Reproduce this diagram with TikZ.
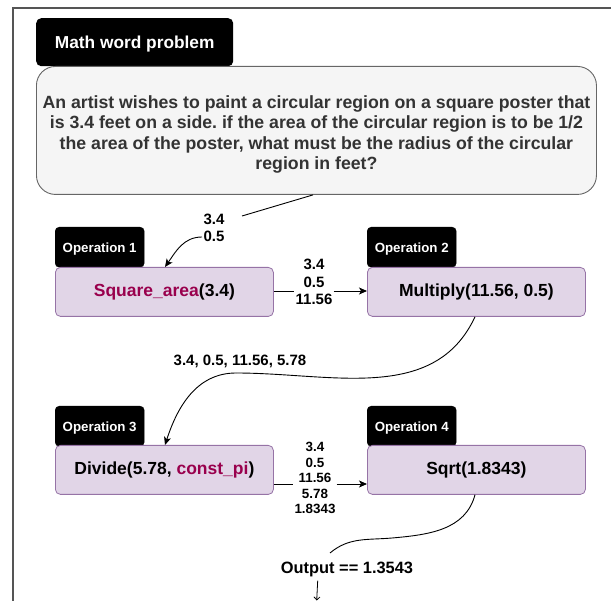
\documentclass[tikz,border=0pt]{standalone}
\usepackage{fontspec}
\setmainfont{Liberation Sans}
\usetikzlibrary{arrows.meta}
\frenchspacing
\definecolor{opfill}{HTML}{E1D5E7}
\definecolor{opline}{HTML}{9673A6}
\definecolor{qfill}{HTML}{F5F5F5}
\definecolor{qline}{HTML}{666666}
\definecolor{qtext}{HTML}{333333}
\definecolor{fn}{HTML}{99004D}
\definecolor{frame}{HTML}{555555}
\tikzset{
  tag/.style={fill=black, draw=black, rounded corners=4pt, text=white, font=\bfseries\fontsize{13.3}{15}\selectfont, inner sep=0pt, anchor=north west, minimum width=89pt, minimum height=40pt},
  tagtext/.style={text=white, font=\bfseries\fontsize{13.3}{15}\selectfont, inner sep=0pt},
  opbox/.style={fill=opfill, draw=opline, line width=0.8pt, rounded corners=5pt, font=\bfseries\fontsize{17.5}{20}\selectfont, inner sep=0pt, anchor=north west, minimum width=218pt, minimum height=49pt},
  elabel/.style={font=\bfseries\fontsize{15}{17.5}\selectfont, align=center, inner sep=1pt},
  conn/.style={line width=0.9pt, -{Stealth[length=8pt,width=7pt,inset=2pt]}},
  plain/.style={line width=0.9pt}
}
\begin{document}
\begin{tikzpicture}[x=1pt,y=-1pt]
\useasboundingbox (0,0) rectangle (611,601);
% frame
\draw[frame, line width=1.2pt] (13,601) -- (13,8) -- (611,8);
% title tag
\node[fill=black, rounded corners=5pt, text=white, font=\bfseries\fontsize{17.3}{20}\selectfont, inner sep=0pt, anchor=north west, minimum width=197pt, minimum height=48pt] (title) at (36,18) {};
\node[text=white, font=\bfseries\fontsize{17.3}{20}\selectfont, inner sep=0pt] (titletext) at ([yshift=-2pt]title.center) {Math word problem};
% question box
\node[fill=qfill, draw=qline, line width=0.9pt, rounded corners=19pt, anchor=north west, minimum width=560pt, minimum height=128pt, inner sep=0pt] (q) at (36,66) {};
\node[text=qtext, font=\bfseries\fontsize{17.7}{20.6}\selectfont, align=center] (qt) at ([yshift=-4pt]q.center) {An artist wishes to paint a circular region on a square poster that\\is 3.4 feet on a side. if the area of the circular region is to be 1/2\\the area of the poster, what must be the radius of the circular\\region in feet?};
% operations
\node[tag] (t1) at (55,227) {};
\node[tagtext] (t1t) at ([yshift=-2pt]t1.center) {Operation 1};
\node[opbox] (o1) at (55,267) {\textcolor{fn}{Square\_area}(3.4)};
\node[tag] (t2) at (367,227) {};
\node[tagtext] (t2t) at ([yshift=-2pt]t2.center) {Operation 2};
\node[opbox] (o2) at (367,267) {Multiply(11.56, 0.5)};
\node[tag] (t3) at (55,406) {};
\node[tagtext] (t3t) at ([yshift=-2pt]t3.center) {Operation 3};
\node[opbox] (o3) at (55,445) {Divide(5.78, \textcolor{fn}{const\_pi})};
\node[tag] (t4) at (367,406) {};
\node[tagtext] (t4t) at ([yshift=-2pt]t4.center) {Operation 4};
\node[opbox] (o4) at (367,445) {Sqrt(1.8343)};
% edge labels
\node[elabel] (l1) at (214,228) {3.4\\0.5};
\node[elabel, fill=white] (l2) at (314,282) {3.4\\0.5\\11.56};
\node[elabel] (l3) at (240,361) {3.4, 0.5, 11.56, 5.78};
\node[elabel, fill=white, font=\bfseries\fontsize{13.4}{15.6}\selectfont] (l4) at (315,478) {3.4\\0.5\\11.56\\5.78\\1.8343};
\node[font=\bfseries\fontsize{16.4}{19}\selectfont, inner sep=1pt] (out) at (347,569) {Output == 1.3543};
% connectors
\coordinate (l1a) at (242,216);
\coordinate (l1b) at (202,237);
\draw[plain] (q.south -| 313,0) -- (l1a);
\draw[conn] (l1b) to[out=180,in=55] (o1.north -| 165,0);
\draw[plain] (o1.east |- 0,291) -- (l2.west |- 0,291);
\draw[conn] (l2.east |- 0,291) -- (o2.west |- 0,291);
\coordinate (m2) at (236,373);
\draw[plain] (o2.south -| 475,0) to[out=-115,in=0] (m2);
\draw[conn] (m2) to[out=180,in=72] (o3.north -| 165,0);
\draw[plain] (o3.east |- 0,484) -- (l4.west |- 0,484);
\draw[conn] (l4.east |- 0,484) -- (o4.west |- 0,484);
\coordinate (m4) at (392,538);
\coordinate (e4) at (330,553);
\draw[plain] (o4.south -| 475,0) to[out=-105,in=5] (m4) to[out=185,in=40] (e4);
\coordinate (b4) at (316.7,600.5);
\draw[line width=0.8pt, -{Straight Barb[length=3pt,width=6pt]}] (out.south -| 317.7,0) ++(0,3) -- (b4);
\end{tikzpicture}
\end{document}
